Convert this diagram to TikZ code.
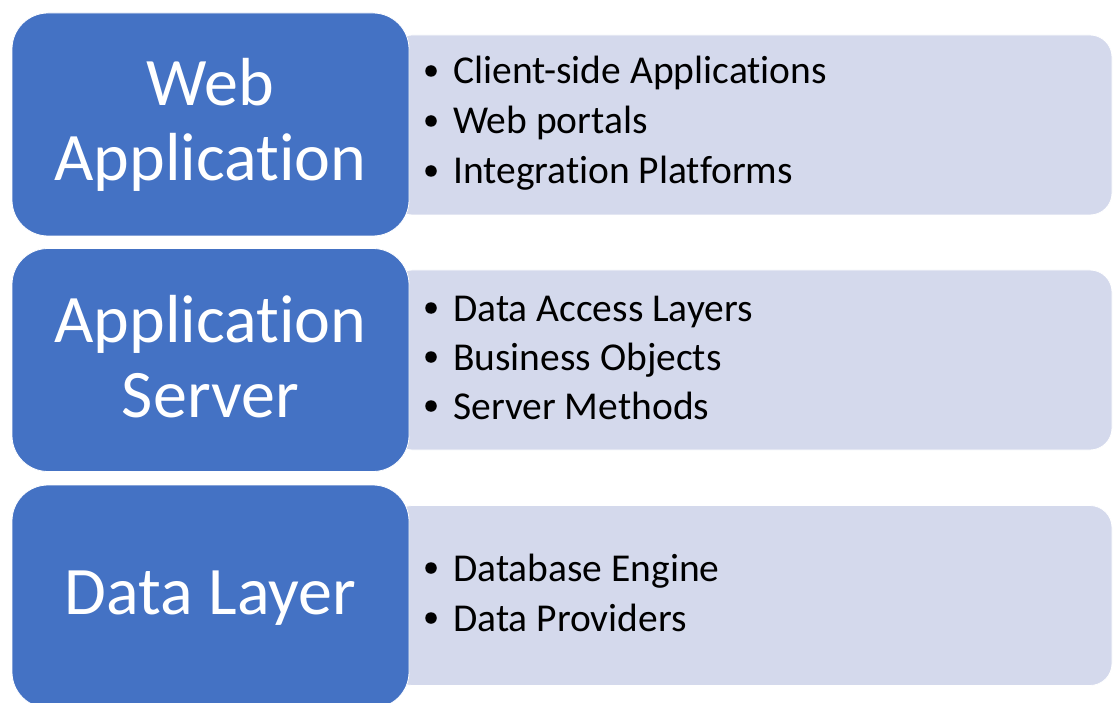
\documentclass[tikz,border=0pt]{standalone}
\usepackage{fontspec}
\setmainfont{Carlito}[RawFeature={-liga;-clig}]
\definecolor{tierblue}{RGB}{68,114,196}
\definecolor{tierlight}{RGB}{212,217,236}
\tikzset{
  tierbox/.style={fill=tierblue, draw=white, line width=0.8pt, rounded corners=36pt,
    minimum width=397pt, minimum height=223pt, inner sep=0pt, outer sep=0pt},
  listbox/.style={fill=tierlight, draw=white, line width=0.8pt, rounded corners=22pt,
    minimum width=722pt, minimum height=180pt, inner sep=0pt, outer sep=0pt},
  tiertext/.style={text=white, inner sep=0pt, anchor=base,
    font=\fontsize{68}{75}\selectfont},
  itemtext/.style={text=black, inner sep=0pt, anchor=base west,
    font=\fontsize{39.5}{50}\selectfont},
  bulletdot/.style={circle, fill=black, inner sep=0pt, minimum size=11.5pt}
}
\begin{document}
\begin{tikzpicture}[x=1pt,y=-1pt]
  \useasboundingbox (0,0) rectangle (1113,703);
  \clip (0,0) rectangle (1113,703);

  % light panels holding the item lists
  \node[listbox] (list1) at (751,125) {};
  \node[listbox] (list2) at (751,360) {};
  \node[listbox] (list3) at (751,595.5) {};

  % tier boxes
  \node[tierbox] (tier1) at (210.5,124.5) {};
  \node[tierbox] (tier2) at (210.5,360) {};
  \node[tierbox] (tier3) at (210.5,596.5) {};

  % tier titles
  \node[tiertext] (t1a) at (210.5,106) {Web};
  \node[tiertext] (t1b) at (210.5,181) {Application};
  \node[tiertext] (t2a) at (210.5,342) {Application};
  \node[tiertext] (t2b) at (210.5,417) {Server};
  \node[tiertext] (t3a) at (210.5,614) {Data Layer};

  % item lists
  \foreach \y/\txt/\nm in {84/Client-side Applications/a1,
                           134/Web portals/a2,
                           184/Integration Platforms/a3,
                           321/Data Access Layers/b1,
                           370/Business Objects/b2,
                           419/Server Methods/b3,
                           581/Database Engine/c1,
                           631/Data Providers/c2}{
    \node[bulletdot] (dot\nm) at (431,\y-13) {};
    \node[itemtext] (item\nm) at (453,\y) {\txt};
  }
\end{tikzpicture}
\end{document}
